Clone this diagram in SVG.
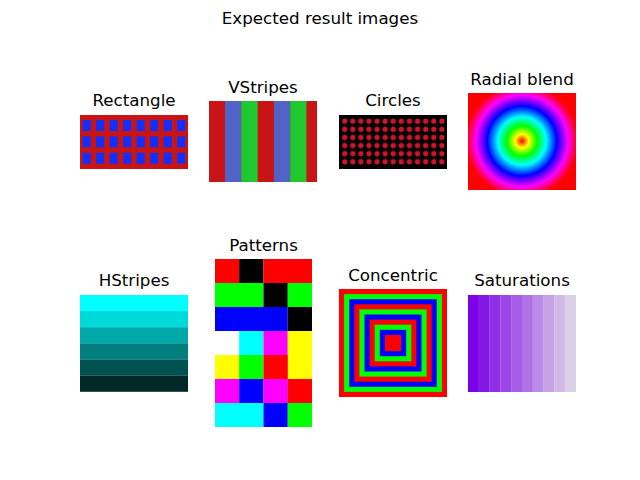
<svg xmlns="http://www.w3.org/2000/svg" width="640" height="480" viewBox="0 0 640 480">
<style>
text{font-family:"DejaVu Sans",sans-serif;font-size:16.7px;fill:#000;text-anchor:middle}
.r{fill:#c81414}.bl{fill:#1030ff}.dot{fill:#d0142a}
</style>
<defs>
<radialGradient id="rad" gradientUnits="userSpaceOnUse" cx="522" cy="141" r="56">
<stop offset="0" stop-color="#ff0000"/><stop offset="0.12" stop-color="#ffff00"/><stop offset="0.27" stop-color="#00ff00"/><stop offset="0.43" stop-color="#00ffff"/><stop offset="0.62" stop-color="#0000ff"/><stop offset="0.82" stop-color="#ff00ff"/><stop offset="1" stop-color="#ff0000"/>
</radialGradient>
<pattern id="dots" patternUnits="userSpaceOnUse" x="340.6" y="117.2" width="8.1" height="8.1"><circle class="dot" cx="4.05" cy="4.05" r="2.6"/></pattern>
</defs>
<rect width="640" height="480" fill="#fff"/>
<text x="320" y="24">Expected result images</text>
<g id="rectangle">
<text x="134" y="106">Rectangle</text>
<rect class="r" x="80" y="115" width="108" height="54"/>
<g class="bl">
<rect x="82.7" y="120" width="8" height="11"/><rect x="96.2" y="120" width="8" height="11"/><rect x="109.7" y="120" width="8" height="11"/><rect x="123.2" y="120" width="8" height="11"/><rect x="136.7" y="120" width="8" height="11"/><rect x="150.2" y="120" width="8" height="11"/><rect x="163.7" y="120" width="8" height="11"/><rect x="177.2" y="120" width="8" height="11"/>
<rect x="82.7" y="136.3" width="8" height="11"/><rect x="96.2" y="136.3" width="8" height="11"/><rect x="109.7" y="136.3" width="8" height="11"/><rect x="123.2" y="136.3" width="8" height="11"/><rect x="136.7" y="136.3" width="8" height="11"/><rect x="150.2" y="136.3" width="8" height="11"/><rect x="163.7" y="136.3" width="8" height="11"/><rect x="177.2" y="136.3" width="8" height="11"/>
<rect x="82.7" y="152.7" width="8" height="11"/><rect x="96.2" y="152.7" width="8" height="11"/><rect x="109.7" y="152.7" width="8" height="11"/><rect x="123.2" y="152.7" width="8" height="11"/><rect x="136.7" y="152.7" width="8" height="11"/><rect x="150.2" y="152.7" width="8" height="11"/><rect x="163.7" y="152.7" width="8" height="11"/><rect x="177.2" y="152.7" width="8" height="11"/>
</g>
</g>
<g id="vstripes">
<text x="263" y="93">VStripes</text>
<rect class="r" x="209" y="101" width="108" height="81"/>
<rect x="225" y="101" width="16.2" height="81" fill="#5064c8"/><rect x="241.2" y="101" width="16.5" height="81" fill="#20c830"/>
<rect x="274" y="101" width="16.2" height="81" fill="#5064c8"/><rect x="290.2" y="101" width="16.2" height="81" fill="#20c830"/>
</g>
<g id="circles">
<text x="393" y="106">Circles</text>
<rect x="339" y="115" width="108" height="54" fill="#000"/>
<rect x="340.6" y="117.2" width="105.3" height="48.6" fill="url(#dots)"/>
</g>
<g id="radial">
<text x="522" y="85">Radial blend</text>
<rect x="468" y="93" width="108" height="97" fill="url(#rad)"/>
</g>
<g id="hstripes">
<text x="134" y="286">HStripes</text>
<rect x="80" y="295" width="108" height="16.2" fill="#00ffff"/>
<rect x="80" y="311.1" width="108" height="16.2" fill="#00d9d9"/>
<rect x="80" y="327.2" width="108" height="16.2" fill="#00aaaa"/>
<rect x="80" y="343.3" width="108" height="16.2" fill="#007f7f"/>
<rect x="80" y="359.4" width="108" height="16.2" fill="#005252"/>
<rect x="80" y="375.5" width="108" height="16.3" fill="#002828"/>
</g>
<g id="patterns">
<text x="263.5" y="251">Patterns</text>
<rect x="215" y="259" width="24.3" height="24" fill="#f00"/><rect x="239.2" y="259" width="24.3" height="24" fill="#000"/><rect x="263.5" y="259" width="48.5" height="24" fill="#f00"/>
<rect x="215" y="283" width="48.5" height="24" fill="#0f0"/><rect x="263.5" y="283" width="24.3" height="24" fill="#000"/><rect x="287.7" y="283" width="24.3" height="24" fill="#0f0"/>
<rect x="215" y="307" width="72.7" height="24" fill="#00f"/><rect x="287.7" y="307" width="24.3" height="24" fill="#000"/>
<rect x="239.2" y="331" width="24.3" height="24" fill="#0ff"/><rect x="263.5" y="331" width="24.3" height="24" fill="#f0f"/><rect x="287.7" y="331" width="24.3" height="48" fill="#ff0"/>
<rect x="215" y="355" width="24.3" height="24" fill="#ff0"/><rect x="239.2" y="355" width="24.3" height="24" fill="#0f0"/><rect x="263.5" y="355" width="24.3" height="24" fill="#f00"/>
<rect x="215" y="379" width="24.3" height="24" fill="#f0f"/><rect x="239.2" y="379" width="24.3" height="24" fill="#00f"/><rect x="263.5" y="379" width="24.3" height="24" fill="#f0f"/><rect x="287.7" y="379" width="24.3" height="24" fill="#f00"/>
<rect x="215" y="403" width="48.5" height="24" fill="#0ff"/><rect x="263.5" y="403" width="24.3" height="24" fill="#00f"/><rect x="287.7" y="403" width="24.3" height="24" fill="#0f0"/>
</g>
<g id="concentric">
<text x="393" y="281">Concentric</text>
<rect x="339" y="289" width="108" height="108" fill="#f00"/>
<rect x="344.1" y="294.1" width="97.8" height="97.8" fill="#0f0"/>
<rect x="349.2" y="299.2" width="87.6" height="87.6" fill="#00f"/>
<rect x="354.3" y="304.3" width="77.4" height="77.4" fill="#f00"/>
<rect x="359.4" y="309.4" width="67.2" height="67.2" fill="#0f0"/>
<rect x="364.5" y="314.5" width="57" height="57" fill="#00f"/>
<rect x="369.6" y="319.6" width="46.8" height="46.8" fill="#f00"/>
<rect x="374.7" y="324.7" width="36.6" height="36.6" fill="#0f0"/>
<rect x="379.8" y="329.8" width="26.4" height="26.4" fill="#00f"/>
<rect x="384.9" y="334.9" width="16.2" height="16.2" fill="#f00"/>
</g>
<g id="saturations">
<text x="522" y="286">Saturations</text>
<rect x="468" y="295" width="10.9" height="97" fill="#7b00e6"/>
<rect x="478.8" y="295" width="10.9" height="97" fill="#8517e6"/>
<rect x="489.6" y="295" width="10.9" height="97" fill="#902ee6"/>
<rect x="500.4" y="295" width="10.9" height="97" fill="#9b45e6"/>
<rect x="511.2" y="295" width="10.9" height="97" fill="#a65ce6"/>
<rect x="522" y="295" width="10.9" height="97" fill="#b073e6"/>
<rect x="532.8" y="295" width="10.9" height="97" fill="#bb8ae6"/>
<rect x="543.6" y="295" width="10.9" height="97" fill="#c6a1e6"/>
<rect x="554.4" y="295" width="10.9" height="97" fill="#d1b8e6"/>
<rect x="565.2" y="295" width="10.8" height="97" fill="#dbcfe6"/>
</g>
</svg>
